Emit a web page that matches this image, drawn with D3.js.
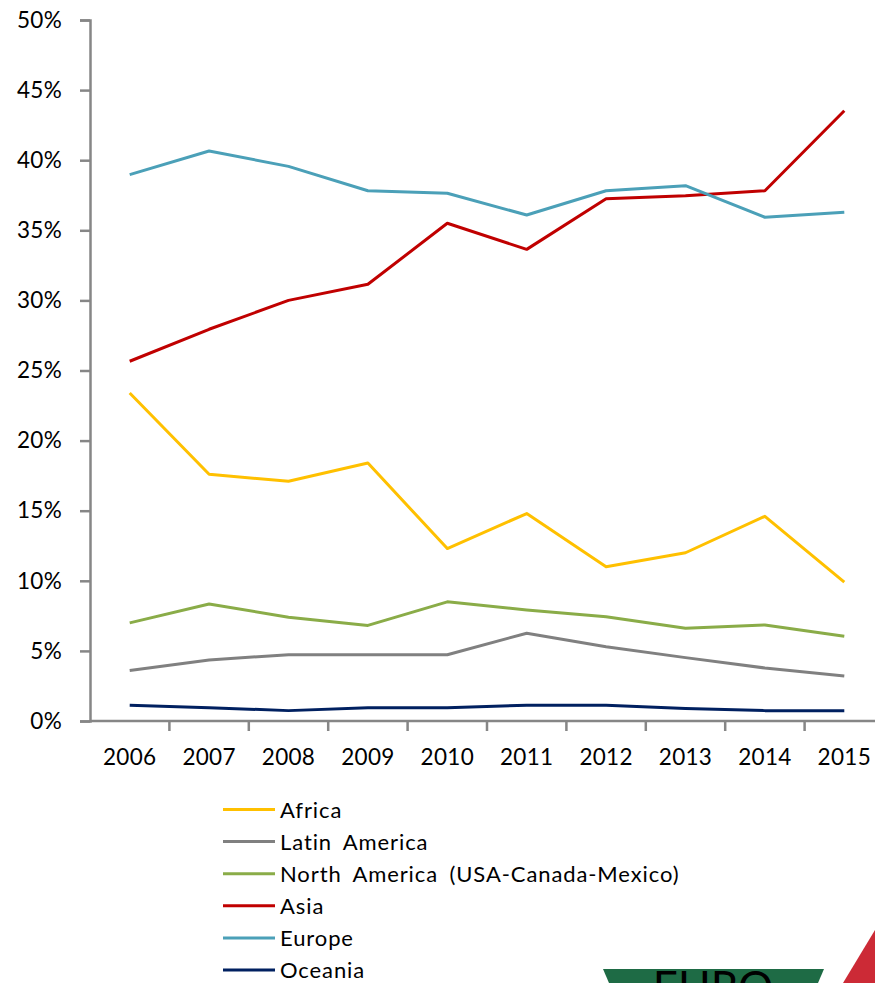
<!DOCTYPE html>
<html>
<head>
<meta charset="utf-8">
<script src="https://cdn.jsdelivr.net/npm/d3@7"></script>
<style>
  body { margin: 0; background: #fff; }
  text { font-family: Lato, "Open Sans", sans-serif; fill: #000; }
</style>
</head>
<body>
<script>
let w = 875;
let h = 983;

const years = ["2006", "2007", "2008", "2009", "2010", "2011", "2012", "2013", "2014", "2015"];
const africa = [23.4, 17.6, 17.1, 18.4, 12.3, 14.8, 11.0, 12.0, 14.6, 9.9];
const latinAmerica = [3.6, 4.35, 4.73, 4.73, 4.73, 6.26, 5.3, 4.52, 3.78, 3.21];
const northAmerica = [7.0, 8.35, 7.4, 6.82, 8.5, 7.92, 7.44, 6.61, 6.85, 6.04];
const asia = [25.66, 27.94, 30.0, 31.15, 35.5, 33.64, 37.25, 37.47, 37.82, 43.53];
const europe = [38.97, 40.66, 39.56, 37.82, 37.64, 36.09, 37.82, 38.18, 35.93, 36.28];
const oceania = [1.12, 0.95, 0.74, 0.95, 0.95, 1.12, 1.12, 0.9, 0.74, 0.74];
const yTicks = [0, 5, 10, 15, 20, 25, 30, 35, 40, 45, 50];

const seriesNames = ["Africa", "Latin America", "North America (USA-Canada-Mexico)", "Asia", "Europe", "Oceania"];
const seriesValues = [africa, latinAmerica, northAmerica, asia, europe, oceania];
const seriesColors = ["#FFC000", "#808080", "#8AAC48", "#C00000", "#4BA0B8", "#002060"];

let svg = d3.select("body").append("svg").attr("width", w).attr("height", h);

//scales
let x = d3.scaleBand().domain(years).range([90, 884]);
let y = d3.scaleLinear().domain([0, 50]).range([721, 20]);

//y axis
let yAxis = svg.append("g")
  .attr("transform", "translate(90,0)")
  .call(d3.axisLeft(y).tickValues(yTicks).tickSize(10).tickPadding(18)
    .tickFormat(function (d) { return d + "%"; }));
yAxis.select(".domain").attr("stroke", "#868686").attr("stroke-width", 2.5);
yAxis.selectAll(".tick line").attr("stroke", "#868686").attr("stroke-width", 2.5);
yAxis.selectAll("text")
  .attr("font-size", 22.5)
  .attr("font-family", "Lato")
  .attr("letter-spacing", 0.3)
  .attr("fill", "#000");

//x axis, ticks on band boundaries
let xAxis = svg.append("g").attr("transform", "translate(0,721)");
xAxis.append("line")
  .attr("x1", 90).attr("x2", 884)
  .attr("stroke", "#868686").attr("stroke-width", 2.5);
xAxis.selectAll(".tk")
  .data(years.slice(1))
  .enter()
  .append("line")
  .attr("x1", function (d) { return x(d); })
  .attr("x2", function (d) { return x(d); })
  .attr("y1", 0).attr("y2", 10)
  .attr("stroke", "#868686").attr("stroke-width", 2.5);
xAxis.selectAll("text")
  .data(years)
  .enter()
  .append("text")
  .text(function (d) { return d; })
  .attr("x", function (d) { return x(d) + x.bandwidth() / 2; })
  .attr("y", 44)
  .attr("font-size", 22.5)
  .attr("letter-spacing", 0.3)
  .attr("text-anchor", "middle");

//lines
let line = d3.line()
  .x(function (d, i) { return x(years[i]) + x.bandwidth() / 2; })
  .y(function (d) { return y(d); });

svg.selectAll(".series")
  .data(seriesValues)
  .enter()
  .append("path")
  .attr("d", function (d) { return line(d); })
  .attr("fill", "none")
  .attr("stroke", function (d, i) { return seriesColors[i]; })
  .attr("stroke-width", 3)
  .attr("stroke-linejoin", "round");

//legend
let legend = svg.selectAll(".legend")
  .data(seriesNames)
  .enter()
  .append("g")
  .attr("transform", function (d, i) { return "translate(223," + (809.5 + i * 32.1) + ")"; });
legend.append("line")
  .attr("x1", 0).attr("x2", 52)
  .attr("stroke", function (d, i) { return seriesColors[i]; })
  .attr("stroke-width", 3);
legend.append("text")
  .text(function (d) { return d; })
  .attr("x", 57)
  .attr("y", 8)
  .attr("font-size", 22)
  .attr("letter-spacing", 0.9)
  .attr("word-spacing", 5);

//logo fragment in the corner
let logo = svg.append("g");
logo.append("path")
  .attr("d", "M603,969 L824,969 L818,983 L609,983 Z")
  .attr("fill", "#1E6B45");
logo.append("text")
  .text("EURO")
  .attr("x", 713).attr("y", 1003)
  .attr("text-anchor", "middle")
  .attr("font-family", "Liberation Serif")
  .attr("font-size", 44)
  .attr("fill", "#F1E3C0");
logo.append("path")
  .attr("d", "M875,930 L875,983 L843,983 Z")
  .attr("fill", "#CC2A36");
</script>
</body>
</html>
